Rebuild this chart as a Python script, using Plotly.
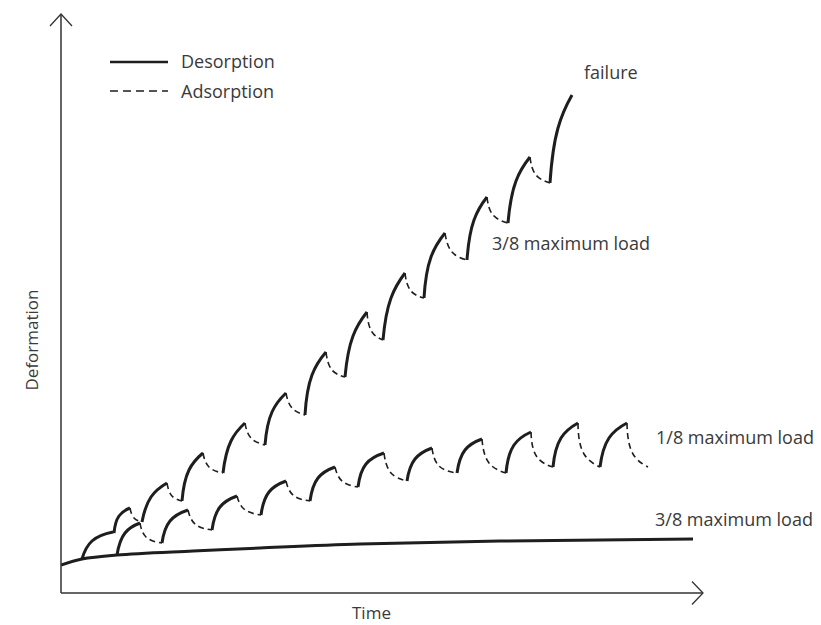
import plotly.graph_objects as go

# ---------------- data (arbitrary units: time, deformation) ----------------
# Constant-humidity reference curve (3/8 maximum load)
base_x = [0, 21, 56, 132, 199, 299, 439, 632]
base_y = [35, 41, 45, 49, 52, 56, 59, 61]

# Cyclic humidity, 1/8 maximum load
low_trough_x = [56, 101, 151, 200, 249, 297, 346, 396, 445, 492, 539, 587]
low_trough_y = [45, 57, 70, 85, 99, 113, 119, 127, 127, 133, 133, 133]
low_peak_x = [79, 127, 176, 225, 274, 323, 371, 421, 470, 517, 566]
low_peak_y = [77, 90, 104, 119, 133, 147, 152, 161, 168, 177, 177]
low_rise_knee_x = [64, 109, 159, 208, 257, 305, 354, 404, 453, 500, 548]
low_rise_knee_y = [67, 79, 93, 108, 122, 136, 141, 150, 155, 162, 162]
low_fall_knee_x = [85, 134, 183, 232, 281, 330, 378, 428, 476, 523, 572]
low_fall_knee_y = [63, 76, 91, 105, 119, 127, 134, 137, 143, 146, 146]

# Cyclic humidity, 3/8 maximum load (ends in failure)
high_trough_x = [21, 53, 81, 121, 162, 204, 244, 284, 322, 363, 406, 447, 489]
high_trough_y = [41, 67, 78, 99, 127, 155, 185, 223, 260, 302, 340, 377, 417]
high_peak_x = [52, 69, 106, 142, 184, 225, 265, 306, 344, 384, 426, 469, 511]
high_peak_y = [68, 92, 117, 147, 177, 207, 248, 288, 327, 367, 403, 443, 505]
high_rise_knee_x = [31, 58, 90, 128, 170, 211, 251, 292, 330, 370, 413, 455, 497]
high_rise_knee_y = [59, 84, 103, 130, 159, 188, 225, 264, 302, 343, 380, 419, 472]
high_fall_knee_x = [52.5, 73, 111, 148, 190, 231, 271, 311, 350, 391, 432, 475]
high_fall_knee_y = [67.5, 82, 104, 133, 162, 192, 230, 268, 309, 348, 385, 425]

legend_labels = ["Desorption", "Adsorption"]
curve_labels = ["failure", "3/8 maximum load", "1/8 maximum load", "3/8 maximum load"]
x_title = "Time"
y_title = "Deformation"


def rises(tx, ty, kx, ky, px, py):
    xs, ys = [], []
    for i in range(len(px)):
        xs += [tx[i], kx[i], px[i], None]
        ys += [ty[i], ky[i], py[i], None]
    return xs, ys


def falls(px, py, kx, ky, tx, ty):
    xs, ys = [], []
    for i in range(len(kx)):
        xs += [px[i], kx[i], tx[i + 1], None]
        ys += [py[i], ky[i], ty[i + 1], None]
    return xs, ys


INK = "#1e1e1e"
TXT = "#3a3a3a"
FONT = "Open Sans"

fig = go.Figure()

fig.add_trace(go.Scatter(x=base_x, y=base_y, mode="lines",
                         line=dict(color=INK, width=3, shape="spline"),
                         showlegend=False, hoverinfo="skip"))

for tx, ty, rkx, rky, px, py, fkx, fky in [
    (low_trough_x, low_trough_y, low_rise_knee_x, low_rise_knee_y,
     low_peak_x, low_peak_y, low_fall_knee_x, low_fall_knee_y),
    (high_trough_x, high_trough_y, high_rise_knee_x, high_rise_knee_y,
     high_peak_x, high_peak_y, high_fall_knee_x, high_fall_knee_y),
]:
    rx, ry = rises(tx, ty, rkx, rky, px, py)
    fx, fy = falls(px, py, fkx, fky, tx, ty)
    fig.add_trace(go.Scatter(x=rx, y=ry, mode="lines", name=legend_labels[0],
                             line=dict(color=INK, width=3, shape="spline", smoothing=1.3),
                             connectgaps=False, showlegend=False, hoverinfo="skip"))
    fig.add_trace(go.Scatter(x=fx, y=fy, mode="lines", name=legend_labels[1],
                             line=dict(color=INK, width=1.6, shape="spline", smoothing=1.3,
                                       dash="6px,4px"),
                             connectgaps=False, showlegend=False, hoverinfo="skip"))

# ---------------- layout ----------------
W, H = 821, 625
ml, mr, mt, mb = 61, 118, 14, 32
pw, ph = W - ml - mr, H - mt - mb

def px2paper_x(p):
    return (p - ml) / pw

def px2paper_y(p):
    return (H - mb - p) / ph

axis_color = "#333333"
shapes = [
    # axes with open arrowheads
    dict(type="line", xref="paper", yref="paper", x0=0, y0=0, x1=1, y1=0,
         line=dict(color=axis_color, width=1.5)),
    dict(type="line", xref="paper", yref="paper", x0=0, y0=0, x1=0, y1=1,
         line=dict(color=axis_color, width=1.5)),
    dict(type="path", xref="paper", yref="paper",
         path=f"M {1 - 11/pw},{11.5/ph} L 1,0 L {1 - 11/pw},{-11.5/ph}",
         line=dict(color=axis_color, width=1.3)),
    dict(type="path", xref="paper", yref="paper",
         path=f"M {-11/pw},{1 - 12/ph} L 0,1 L {11/pw},{1 - 12/ph}",
         line=dict(color=axis_color, width=1.3)),
    # legend keys
    dict(type="line", xref="paper", yref="paper",
         x0=px2paper_x(110), x1=px2paper_x(168), y0=px2paper_y(62), y1=px2paper_y(62),
         line=dict(color=INK, width=2.5)),
    dict(type="line", xref="paper", yref="paper",
         x0=px2paper_x(110), x1=px2paper_x(168), y0=px2paper_y(91), y1=px2paper_y(91),
         line=dict(color=INK, width=1.3, dash="8px,5px")),
]

font = dict(family=FONT, size=18, color=TXT)
annotations = [
    dict(text=legend_labels[0], xref="paper", yref="paper", x=px2paper_x(179), y=px2paper_y(61),
         xanchor="left", yanchor="middle", showarrow=False, font=font),
    dict(text=legend_labels[1], xref="paper", yref="paper", x=px2paper_x(179), y=px2paper_y(91),
         xanchor="left", yanchor="middle", showarrow=False, font=font),
    dict(text=curve_labels[0], xref="x", yref="y", x=521, y=528,
         xanchor="left", yanchor="middle", showarrow=False, font=font),
    dict(text=curve_labels[1], xref="x", yref="y", x=429, y=357,
         xanchor="left", yanchor="middle", showarrow=False, font=font),
    dict(text=curve_labels[2], xref="x", yref="y", x=593, y=163,
         xanchor="left", yanchor="middle", showarrow=False, font=font),
    dict(text=curve_labels[3], xref="x", yref="y", x=592, y=81,
         xanchor="left", yanchor="middle", showarrow=False, font=font),
    dict(text=x_title, xref="x", yref="paper", x=310, y=0, yanchor="top", yshift=-6,
         showarrow=False, font=dict(family=FONT, size=17, color=TXT)),
    dict(text=y_title, xref="paper", yref="paper", x=px2paper_x(18), y=px2paper_y(340),
         textangle=-90, showarrow=False, font=dict(family=FONT, size=17, color=TXT)),
]

fig.update_layout(
    width=W, height=H,
    margin=dict(l=ml, r=mr, t=mt, b=mb, pad=0),
    paper_bgcolor="white", plot_bgcolor="white",
    xaxis=dict(range=[0, pw], showgrid=False, zeroline=False, showticklabels=False,
               showline=False, ticks="", fixedrange=True),
    yaxis=dict(range=[7, 7 + ph], showgrid=False, zeroline=False, showticklabels=False,
               showline=False, ticks="", fixedrange=True),
    shapes=shapes, annotations=annotations, showlegend=False,
)

fig.write_html("out.html", config={"displayModeBar": False},
               post_script="document.body.style.margin='0';document.body.style.overflow='hidden';")
